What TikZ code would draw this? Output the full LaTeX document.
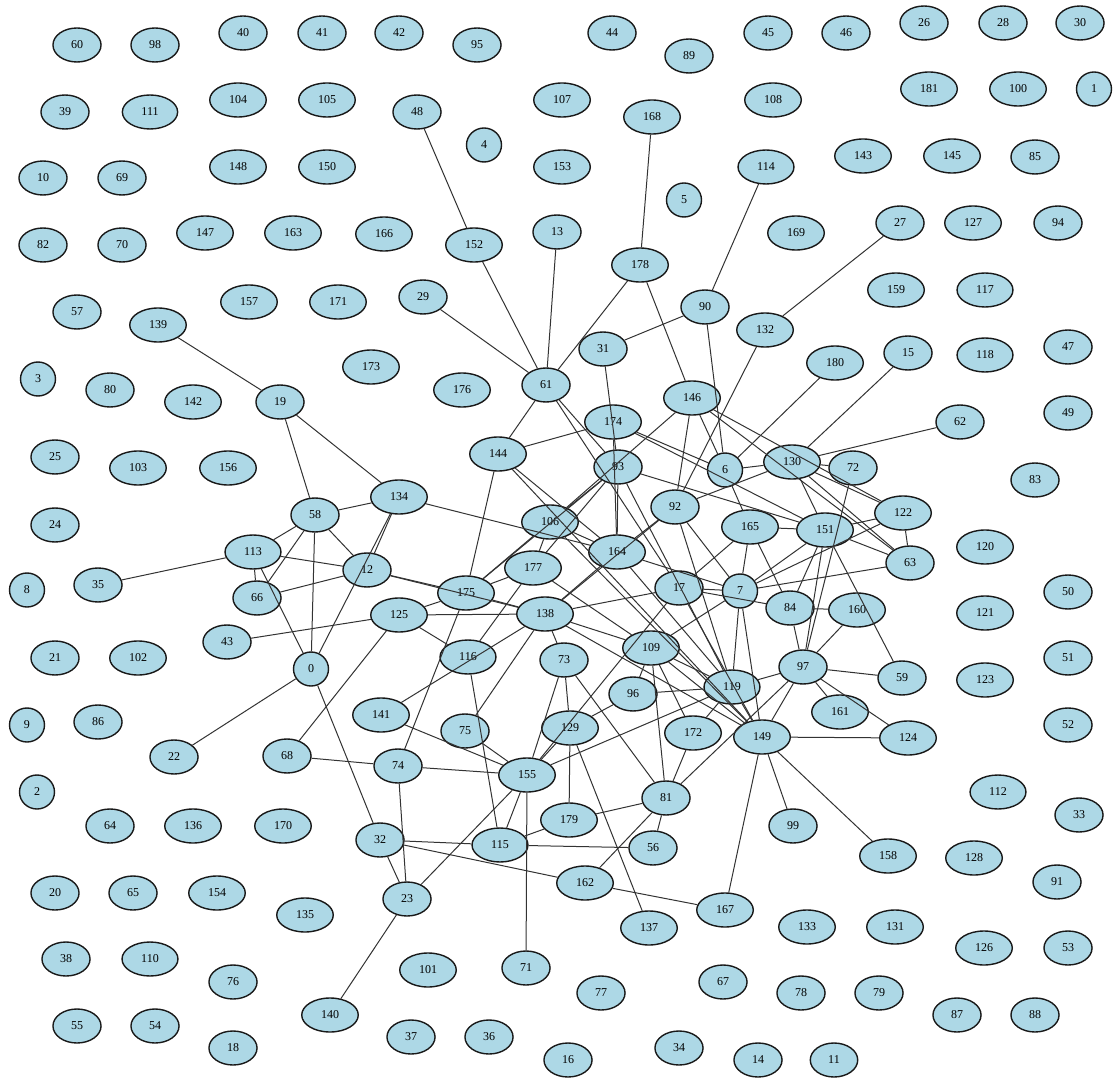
\documentclass[tikz,border=0pt]{standalone}
\usepackage{fontspec}
\setmainfont{Liberation Serif}
\usetikzlibrary{shapes.geometric}
\definecolor{nodeblue}{RGB}{173,216,230}
\tikzset{
 pg vertex/.style={ellipse,draw=black!90,fill=nodeblue,line width=0.7pt,
                   inner xsep=5.5pt,inner ysep=1pt,minimum height=17pt,
                   font=\fontsize{6}{6}\selectfont},
 pg small/.style={pg vertex,inner xsep=3pt,minimum width=17.5pt},
 pg edge/.style={draw=black!80,line width=0.5pt}
}

\begin{document}
\begin{tikzpicture}[x=0.5pt,y=-0.5pt]
 \fill[white] (0,0) rectangle (1113,1080);
 \path[use as bounding box] (0,0) rectangle (1113,1080);

 % vertices, pixel positions
 \foreach \n/\vx/\vy in {0/311/669,1/1094/89,2/37/792,3/38/379,4/484/145,
   5/684/200,6/725/470,7/740/591,8/27/590,9/27/725}
   \node[pg small] (v\n) at (\vx,\vy) {\n};
 \foreach \n/\vx/\vy in {10/43/178,11/834/1060,12/367/570,13/557/232,
   14/758/1060,15/908/353,16/568/1060,17/679/588,18/233/1048,19/280/402,
   20/55/893,21/55/658,22/174/757,23/407/899,24/55/525,25/55/457,26/924/23,
   27/900/223,28/1003/23,29/423/297,30/1080/23,31/603/349,32/380/840,
   33/1079/815,34/679/1048,35/98/585,36/489/1037,37/411/1037,38/66/959,
   39/65/112,40/243/33,41/322/33,42/399/33,43/227/642,44/612/33,45/768/33,
   46/846/33,47/1068/347,48/417/112,49/1068/413,50/1068/592,51/1068/658,
   52/1068/725,53/1068/948,54/155/1026,55/77/1026,56/653/848,57/77/312,
   58/315/515,59/902/678,60/77/45,61/546/385,62/960/422,63/910/563,
   64/110/826,65/133/893,66/257/598,67/723/982,68/287/756,69/122/178,
   70/122/245,71/526/968,72/853/468,73/564/660,74/398/766,75/465/731,
   76/233/982,77/601/993,78/801/993,79/879/993,80/110/390,81/666/798,
   82/43/245,83/1035/480,84/790/608,85/1035/157,86/98/722,87/957/1015,
   88/1035/1015,89/689/56,90/705/307,91/1057/882,92/675/507,93/618/467,
   94/1058/223,95/477/45,96/633/694,97/803/667,98/155/45,99/793/826}
   \node[pg vertex] (v\n) at (\vx,\vy) {\n};
 \foreach \n/\vx/\vy in {100/1018/89,101/428/970,102/138/658,103/138/468,
   104/238/100,105/327/100,106/550/522,107/562/100,108/773/100,109/651/648,
   110/150/959,111/150/112,112/998/792,113/253/552,114/766/167,115/500/845,
   116/468/657,117/985/290,118/985/355,119/732/687,120/985/547,121/985/613,
   122/903/513,123/985/680,124/908/738,125/399/615,126/984/948,127/973/223,
   128/974/858,129/570/728,130/792/462,131/895/927,132/765/330,133/807/927,
   134/399/497,135/305/915,136/193/826,137/649/928,138/545/614,139/158/325,
   140/330/1015,141/381/715,142/193/402,143/863/156,144/498/454,145/952/156,
   146/692/398,147/205/233,148/238/167,149/762/737,150/327/167,151/825/530,
   152/474/245,153/562/167,154/217/893,155/527/775,156/228/468,157/249/302,
   158/888/856,159/896/290,160/857/610,161/840/712,162/585/883,163/293/233,
   164/617/552,165/750/527,166/384/234,167/725/910,168/652/117,169/796/233,
   170/283/826,171/338/302,172/693/733,173/371/367,174/613/422,175/466/593,
   176/462/390,177/533/568,178/640/265,179/569/820,180/835/363,181/929/89}
   \node[pg vertex] (v\n) at (\vx,\vy) {\n};

 % edges
 \foreach \a/\b in {48/152,152/61,13/61,29/61,178/61,168/178,178/146,
   114/90,90/31,90/6,27/132,132/92,31/93,61/144,61/93,61/17,
   139/19,19/58,19/134,58/134,58/113,58/66,58/12,58/0,113/35,113/12,
   113/66,113/0,66/12,134/12,134/0,134/164,43/125,0/22,0/32,
   125/138,125/68,125/116,125/175,68/74,32/115,32/162,32/23,74/23,23/155,
   23/140,74/155,74/175,141/155,141/138,75/155,138/75,116/115,155/115,
   155/71,155/129,155/119,73/155,
   129/179,129/137,73/129,179/81,115/179,115/56,81/56,81/162,81/172,81/109,
   81/97,73/81,162/167,167/149,149/124,149/99,149/158,
   15/130,180/6,62/130,130/6,130/72,130/151,130/63,130/122,130/92,72/97,
   122/63,122/151,122/7,151/7,151/97,151/59,151/84,151/63,63/7,160/84,
   160/97,84/97,165/84,97/59,97/124,97/119,97/161,97/149,
   146/92,146/6,146/106,146/122,146/63,174/144,174/6,174/151,174/164,
   93/164,93/151,93/106,93/177,93/175,93/119,144/175,144/164,144/149,
   106/177,106/164,106/149,106/175,177/175,177/116,177/109,164/92,164/7,
   164/138,164/119,92/119,92/138,92/7,6/165,165/7,165/17,165/151,17/7,
   17/84,17/138,17/155,17/149,7/119,7/149,7/109,109/96,109/172,109/149,
   109/119,109/138,119/172,119/149,73/138,138/149,175/138,12/175,12/138,
   96/119,96/129}
   \draw[pg edge] (v\a) -- (v\b);
\end{tikzpicture}
\end{document}
